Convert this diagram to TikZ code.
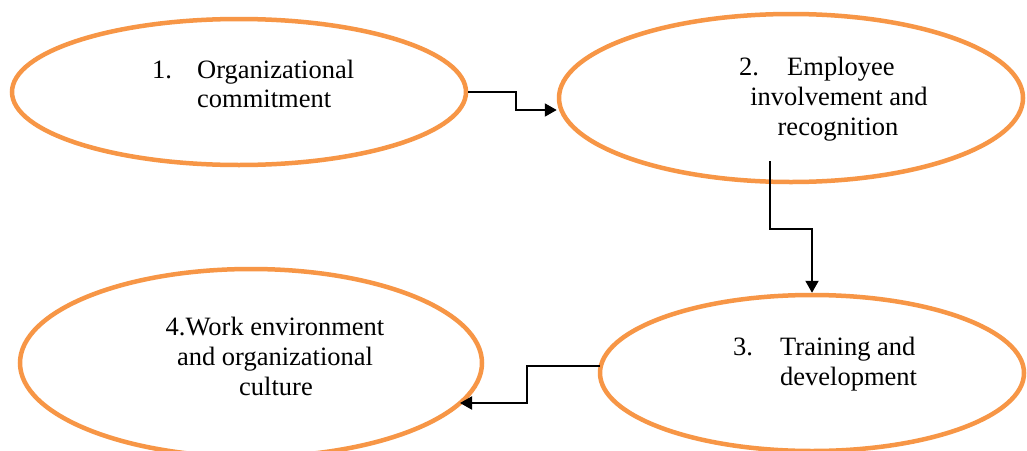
\documentclass[tikz,border=0pt]{standalone}
\usepackage{fontspec}
\setmainfont{Liberation Serif}
\usetikzlibrary{shapes.geometric,arrows.meta}
\definecolor{ringorange}{RGB}{247,150,70}
\begin{document}
\begin{tikzpicture}[x=1pt,y=-1pt,
  ring/.style={ellipse,draw=ringorange,line width=4.5pt,inner sep=0pt},
  conn/.style={draw=black,line width=2pt,-{Triangle[length=12pt,width=13pt]}},
  txt/.style={inner sep=0pt,font=\fontsize{26.5}{30}\selectfont},
  lft/.style={txt,anchor=base west},
  ctr/.style={txt,anchor=base}]
\useasboundingbox[fill=white] (0,0) rectangle (1027,450);

% the four stages
\node[ring,minimum width=454pt,minimum height=146pt] (E1) at (239,92) {};
\node[ring,minimum width=464pt,minimum height=168pt] (E2) at (791,98) {};
\node[ring,minimum width=424pt,minimum height=156pt] (E3) at (812,373) {};
\node[ring,minimum width=462pt,minimum height=188pt] (E4) at (251,363) {};

% stage labels
\node[lft] (t1a) at (152,78) {\makebox[45pt][l]{1.}Organizational};
\node[lft] (t1b) at (197,107) {commitment};

\node[lft] (t2a) at (739,75) {\makebox[48pt][l]{2.}Employee};
\node[ctr] (t2b) at (839,105) {involvement and};
\node[ctr] (t2c) at (838,135) {recognition};

\node[lft] (t3a) at (733,355) {\makebox[47pt][l]{3.}Training and};
\node[lft] (t3b) at (780,385) {development};

\node[ctr] (t4a) at (275,335) {4.Work environment};
\node[ctr] (t4b) at (275,365) {and organizational};
\node[ctr] (t4c) at (276,395) {culture};

% connector bends and free ends
\coordinate (b12a) at (516,92);
\coordinate (b12b) at (516,110);
\coordinate (e12) at (E2.west |- b12b);
\coordinate (s23) at (770,161);
\coordinate (b23a) at (770,229);
\coordinate (b23b) at (812,229);
\coordinate (s34) at (600,366);
\coordinate (b34a) at (527,366);
\coordinate (b34b) at (527,403);
\coordinate (e34) at (460,403);

\draw[conn] (E1.east) -- (b12a) -- (b12b) -- (e12);
\draw[conn] (s23) -- (b23a) -- (b23b) -- (E3.north);
\draw[conn] (s34) -- (b34a) -- (b34b) -- (e34);
\end{tikzpicture}
\end{document}
